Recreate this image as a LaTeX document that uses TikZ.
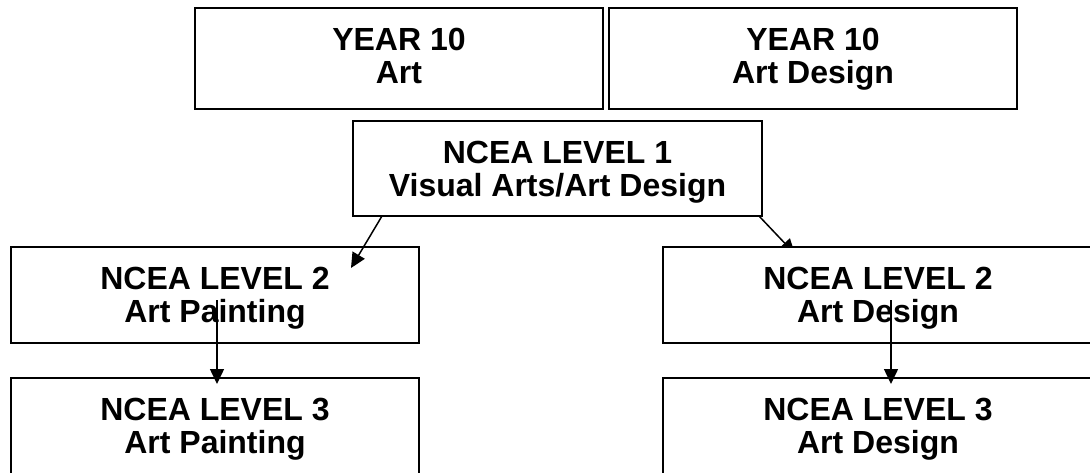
\documentclass[tikz,border=0pt]{standalone}
\usepackage{fontspec}
\setmainfont{Liberation Sans}
\usetikzlibrary{arrows.meta}
\tikzset{
  box/.style={draw=black, line width=2pt, fill=white, rectangle, inner sep=0pt, outer sep=0pt,
    align=center, text depth=0pt, font=\bfseries\fontsize{32}{33}\selectfont},
  topbox/.style={box, text depth=6pt, minimum width=408pt, minimum height=101pt},
  conn/.style={draw=black, line width=1.5pt, -{Triangle[length=15pt,width=14pt]}}
}
\begin{document}
\begin{tikzpicture}[x=1pt,y=-1pt]
\useasboundingbox[fill=white] (0,0) rectangle (1090,472);
\node[topbox] (y10a) at (399,58.5) {YEAR 10\\Art};
\node[topbox] (y10b) at (813,58.5) {YEAR 10\\Art Design};
\node[box, minimum width=409pt, minimum height=95pt] (l1) at (557.5,168.5) {NCEA LEVEL 1\\Visual Arts/Art Design};
\coordinate (r2in) at (795,254);
\draw[conn] ([xshift=-3pt]l1.south east) -- (r2in);
\node[box, minimum width=408pt, minimum height=96pt] (l2a) at (215,295) {NCEA LEVEL 2\\Art Painting};
\node[box, minimum width=430pt, minimum height=96pt] (l2b) at (878,295) {NCEA LEVEL 2\\Art Design};
\node[box, minimum width=408pt, minimum height=96pt] (l3a) at (215,426) {NCEA LEVEL 3\\Art Painting};
\node[box, minimum width=430pt, minimum height=96pt] (l3b) at (878,426) {NCEA LEVEL 3\\Art Design};
\coordinate (l2tip) at (351,268);
\draw[conn] ([xshift=29pt]l1.south west) -- (l2tip);
\coordinate (a2in) at (217,300);
\coordinate (a3in) at (217,384);
\draw[conn] (a2in) -- (a3in);
\coordinate (b2in) at (891,300);
\coordinate (b3in) at (891,384);
\draw[conn] (b2in) -- (b3in);
\end{tikzpicture}
\end{document}
